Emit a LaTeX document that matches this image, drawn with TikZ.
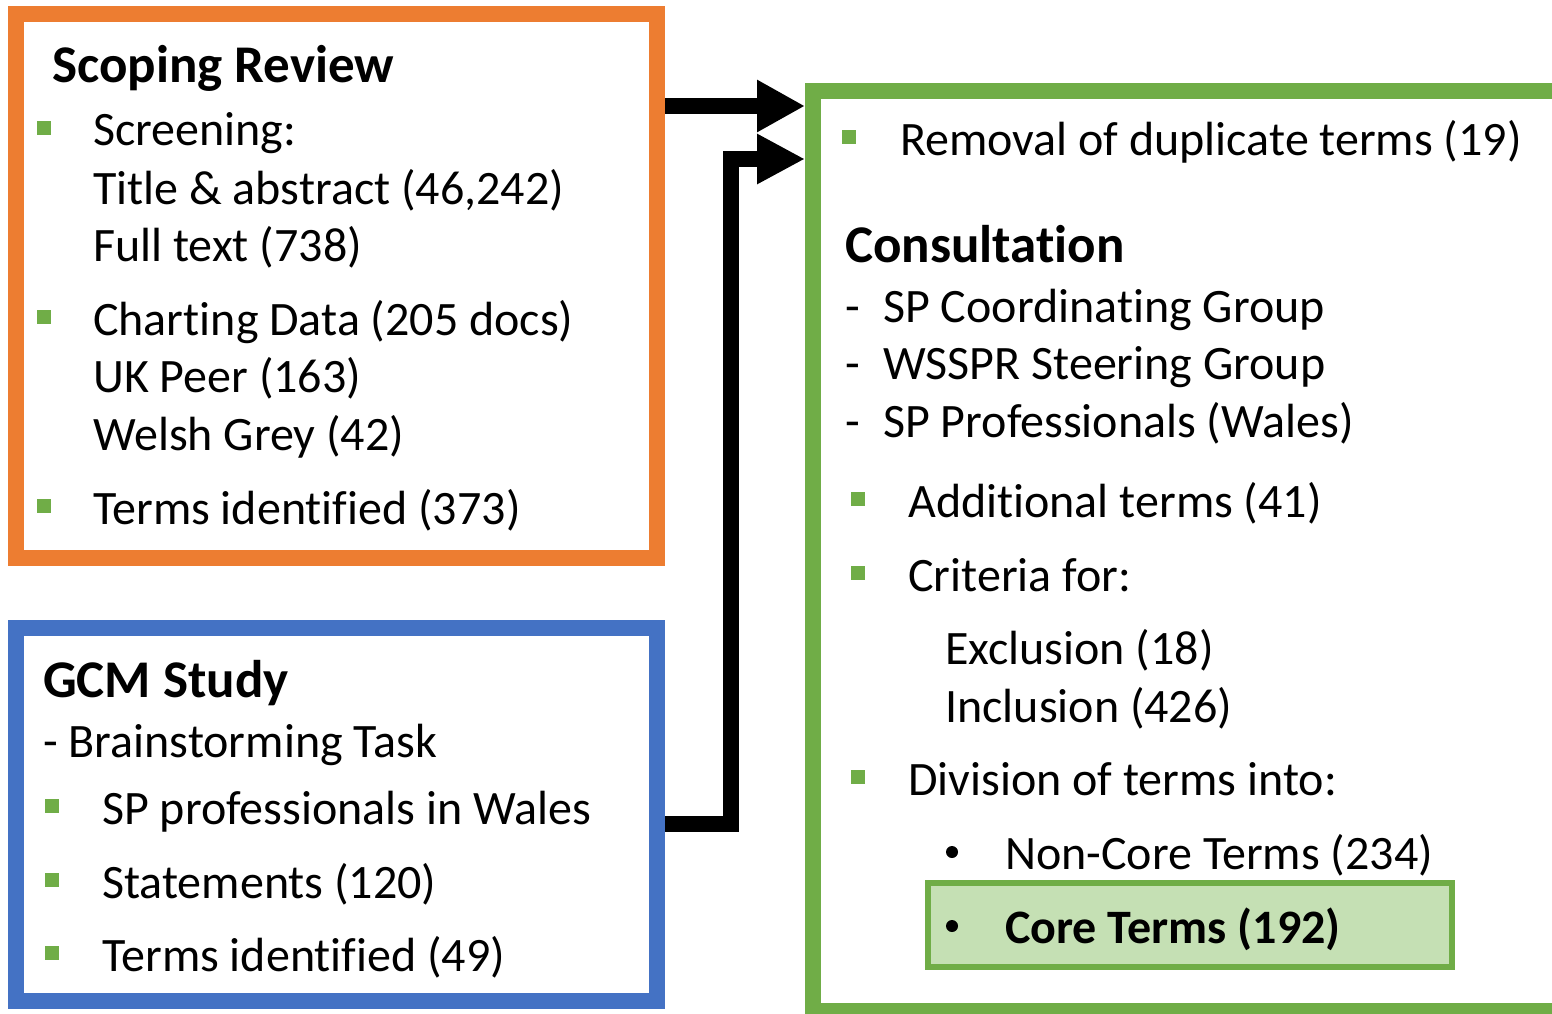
\documentclass[tikz,border=0pt]{standalone}
\usepackage{fontspec}
\setmainfont{Carlito}[Ligatures=NoCommon]
\usetikzlibrary{arrows.meta}
\definecolor{orng}{HTML}{ED7D31}
\definecolor{blu}{HTML}{4472C4}
\definecolor{grn}{HTML}{70AD47}
\definecolor{lgrn}{HTML}{C5E0B4}
\tikzset{
  txt/.style={anchor=base west, inner sep=0pt, font=\fontsize{48}{56}\selectfont},
  hd/.style={anchor=base west, inner sep=0pt, font=\fontsize{53}{60}\selectfont\bfseries},
  corehd/.style={anchor=base west, inner sep=0pt, font=\fontsize{48}{56}\selectfont\bfseries},
  sqb/.style={fill=grn, minimum size=14pt, inner sep=0pt},
  dotb/.style={circle, fill=black, minimum size=12pt, inner sep=0pt},
  frame/.style={draw, line width=16pt, inner sep=0pt},
  conn/.style={draw=black, line width=16pt},
}
\begin{document}
\begin{tikzpicture}[x=1pt,y=-1pt]
\path[use as bounding box] (0,0) rectangle (1552,1014);
\clip (0,0) rectangle (1552,1014);
% frames
\node[frame, draw=orng, minimum width=641pt, minimum height=544pt] (scoping) at (336.5,286) {};
\node[frame, draw=blu, minimum width=641pt, minimum height=373pt] (gcm) at (336.5,814.5) {};
\node[frame, draw=grn, minimum width=757pt, minimum height=920pt] (green) at (1191.5,551) {};
\node[draw=grn, fill=lgrn, line width=6pt, minimum width=524pt, minimum height=84pt, inner sep=0pt] (core) at (1190,925) {};
% connectors
\coordinate (y1) at (0,106);
\coordinate (k1) at (731,824);
\coordinate (k2) at (731,159);
\draw[conn, -{Triangle[length=48pt,width=49pt]}] (scoping.east |- y1) -- (green.west |- y1);
\draw[conn, -{Triangle[length=48pt,width=47pt]}] (gcm.east |- k1) -- (k1) -- (k2) -- (green.west |- k2);
% scoping review text
\node[hd] (t1) at (52,83) {Scoping Review};
\node[sqb] (b1) at (44,128) {};
\node[txt] (t2) at (93,146) {Screening:};
\node[txt] (t3) at (93,204) {Title \& abstract (46,242)};
\node[txt] (t4) at (93,261) {Full text (738)};
\node[sqb] (b2) at (44,317) {};
\node[txt] (t5) at (93,335) {Charting Data (205 docs)};
\node[txt] (t6) at (93,392) {UK Peer (163)};
\node[txt] (t7) at (93,450) {Welsh Grey (42)};
\node[sqb] (b3) at (44,506) {};
\node[txt] (t8) at (93,524) {Terms identified (373)};
% GCM text
\node[hd] (g1) at (43,697) {GCM Study};
\node[txt] (g2) at (43,757) {- Brainstorming Task};
\node[sqb] (gb1) at (52,806) {};
\node[txt] (g3) at (102,824) {SP professionals in Wales};
\node[sqb] (gb2) at (52,880) {};
\node[txt] (g4) at (102,898) {Statements (120)};
\node[sqb] (gb3) at (52,953) {};
\node[txt] (g5) at (102,971) {Terms identified (49)};
% green text
\node[sqb] (cb0) at (849,137) {};
\node[txt] (c1) at (900,155) {Removal of duplicate terms (19)};
\node[hd] (c2) at (845,262) {Consultation};
\node[txt] (d1) at (845,322) {-};
\node[txt] (c3) at (883,322) {SP Coordinating Group};
\node[txt] (d2) at (845,379) {-};
\node[txt] (c4) at (883,379) {WSSPR Steering Group};
\node[txt] (d3) at (845,437) {-};
\node[txt] (c5) at (883,437) {SP Professionals (Wales)};
\node[sqb] (cb1) at (858,499) {};
\node[txt] (c6) at (908,517) {Additional terms (41)};
\node[sqb] (cb2) at (858,573) {};
\node[txt] (c7) at (908,591) {Criteria for:};
\node[txt] (c8) at (945,664) {Exclusion (18)};
\node[txt] (c9) at (945,722) {Inclusion (426)};
\node[sqb] (cb3) at (858,777) {};
\node[txt] (c10) at (908,795) {Division of terms into:};
\node[dotb] (db1) at (952,852) {};
\node[txt] (c11) at (1005,869) {Non-Core Terms (234)};
\node[dotb] (db2) at (952,926) {};
\node[corehd] (c12) at (1005,943) {Core Terms (192)};
\end{tikzpicture}
\end{document}
